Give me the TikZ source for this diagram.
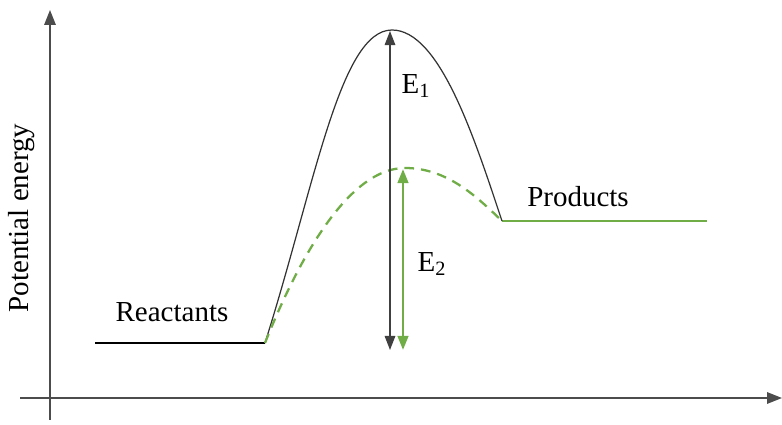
\documentclass[tikz,border=0pt]{standalone}
\usepackage{fontspec}
\setmainfont{Liberation Serif}
\usetikzlibrary{arrows.meta,positioning}
\definecolor{grn}{HTML}{70AD47}

\begin{document}
\begin{tikzpicture}[x=0.02cm, y=-0.02cm,
  axis/.style={draw=black!70, line width=0.9pt, -{Triangle[width=6.5pt,length=8.5pt]}},
  lbl/.style={font=\fontsize{16.5}{20}\selectfont, inner sep=1pt},
  tip/.style={{Triangle[width=6pt,length=8pt]}-{Triangle[width=6pt,length=8pt]}}]
\useasboundingbox (0,0) rectangle (782,425);
\coordinate (xs) at (20,398);
\coordinate (xe) at (782,398);
\coordinate (ys) at (50,420);
\coordinate (ye) at (50,10);
\draw[axis] (xs) -- (xe);
\draw[axis] (ys) -- (ye);
\node[lbl, rotate=90] (pe) at (22,218) {Potential energy};
% levels
\coordinate (r0) at (95,343);
\coordinate (r1) at (265,343);
\coordinate (p0) at (502,221);
\coordinate (p1) at (707,221);
\coordinate (top) at (392,30);
\coordinate (gtop) at (405,168);
\draw[line width=1.1pt] (r0) -- (r1);
\draw[grn, line width=1.6pt] (p0) -- (p1);
\node[lbl] (reac) at (172,312) {Reactants};
\node[lbl] (prod) at (578,197) {Products};
% curves
\draw[black!80, line width=0.7pt] (r1) .. controls (315,185) and (340,30) .. (top)
  .. controls (440,30) and (475,140) .. (p0);
\draw[grn, line width=1.3pt, dash pattern=on 5.5pt off 4pt] (r1) .. controls (300,255) and (350,168) .. (gtop)
  .. controls (448,168) and (478,198) .. (p0);
% energies
\coordinate (e1t) at (390,31);
\coordinate (e1b) at (390,350);
\coordinate (e2t) at (403,169);
\coordinate (e2b) at (403,350);
\draw[tip, black!75, line width=0.8pt] (e1b) -- (e1t);
\draw[tip, grn, line width=1.5pt] (e2b) -- (e2t);
\node[lbl] (E1) at (416,86) {E\textsubscript{1}};
\node[lbl] (E2) at (432,264) {E\textsubscript{2}};
\end{tikzpicture}
\end{document}
